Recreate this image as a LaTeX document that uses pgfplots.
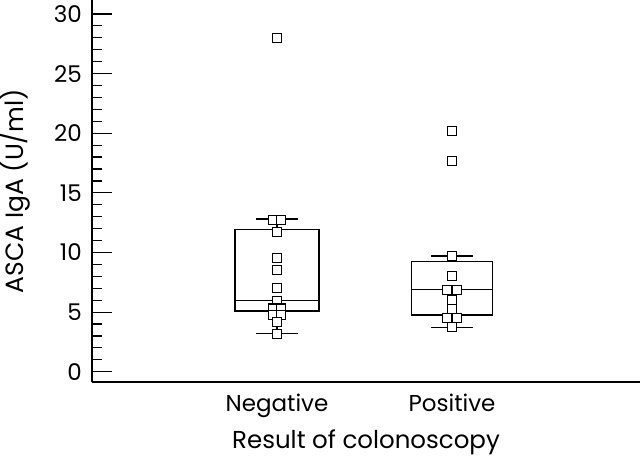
\documentclass[border=0pt]{standalone}
\usepackage{fontspec}
\setmainfont{Poppins}
\usepackage{pgfplots}
\pgfplotsset{compat=1.18}
\begin{document}
\begin{tikzpicture}
\begin{axis}[
  at={(0,0)}, anchor=south west,
  scale only axis, width=548pt, height=382pt,
  xmin=-0.057, xmax=3.074, ymin=-0.86, ymax=31.17,
  axis lines=left, axis line style={-, line width=1.2pt, black},
  ytick={0,5,...,30}, minor y tick num=4,
  tick align=inside, major tick length=20pt, minor tick length=10pt,
  every tick/.style={black, line width=1.2pt},
  xtick={1,2}, xticklabels={Negative,Positive},
  xtick style={draw=none},
  /pgf/number format/assume math mode=true,
  yticklabel style={font=\fontsize{23}{27}\selectfont, anchor=east, inner sep=0pt, xshift=-10pt},
  xticklabel style={font=\fontsize{23}{27}\selectfont, anchor=base, inner sep=0pt, yshift=-29pt},
  every axis y label/.style={at={(axis description cs:-0.1259,0.5)}, anchor=base, rotate=90, inner sep=0pt, font=\fontsize{25}{30}\selectfont},
  every axis x label/.style={at={(axis description cs:0.5,-0.1728)}, anchor=base, inner sep=0pt, font=\fontsize{24.5}{30}\selectfont},
  ylabel={ASCA IgA (U/ml)},
  xlabel={Result of colonoscopy},
  clip=false,
  line join=miter,
]
% Negative box plot
\addplot[black, line width=1.2pt] coordinates {(0.76,5.1) (1.24,5.1) (1.24,11.9) (0.76,11.9) (0.76,5.1) (1.24,5.1)};
\addplot[black, line width=1.2pt] coordinates {(0.76,6.0) (1.24,6.0)};
\addplot[black, line width=1.2pt] coordinates {(1,11.9) (1,12.8)};
\addplot[black, line width=1.2pt] coordinates {(0.88,12.8) (1.12,12.8)};
\addplot[black, line width=1.2pt] coordinates {(1,5.1) (1,3.2)};
\addplot[black, line width=1.2pt] coordinates {(0.88,3.2) (1.12,3.2)};
% Positive box plot
\addplot[black, line width=1.2pt] coordinates {(1.77,4.76) (2.23,4.76) (2.23,9.23) (1.77,9.23) (1.77,4.76) (2.23,4.76)};
\addplot[black, line width=1.2pt] coordinates {(1.77,6.91) (2.23,6.91)};
\addplot[black, line width=1.2pt] coordinates {(2,9.23) (2,9.71)};
\addplot[black, line width=1.2pt] coordinates {(1.88,9.71) (2.12,9.71)};
\addplot[black, line width=1.2pt] coordinates {(2,4.76) (2,3.72)};
\addplot[black, line width=1.2pt] coordinates {(1.88,3.72) (2.12,3.72)};
% Points
\addplot[only marks, mark=square*, mark size=4.5pt, mark options={fill=white, draw=black, line width=1.1pt}] coordinates {
 (1,28.0) (0.975,12.7) (1.025,12.7) (1,11.7) (1,9.5) (1,8.5) (1,7.0) (1,5.96)
 (0.975,5.3) (1.025,5.3) (0.975,4.75) (1.025,4.75) (1,4.2) (1,3.2)
};
\addplot[only marks, mark=square*, mark size=4.5pt, mark options={fill=white, draw=black, line width=1.1pt}] coordinates {
 (2,20.2) (2,17.7) (2,9.7) (2,8.05) (1.971,6.85) (2.029,6.85) (2,6.0) (2,5.26)
 (1.971,4.53) (2.029,4.53) (2,3.72)
};
\end{axis}
\pgfresetboundingbox
\path[use as bounding box] (-92pt,-76pt) rectangle (548pt,382pt);
\end{tikzpicture}
\end{document}
